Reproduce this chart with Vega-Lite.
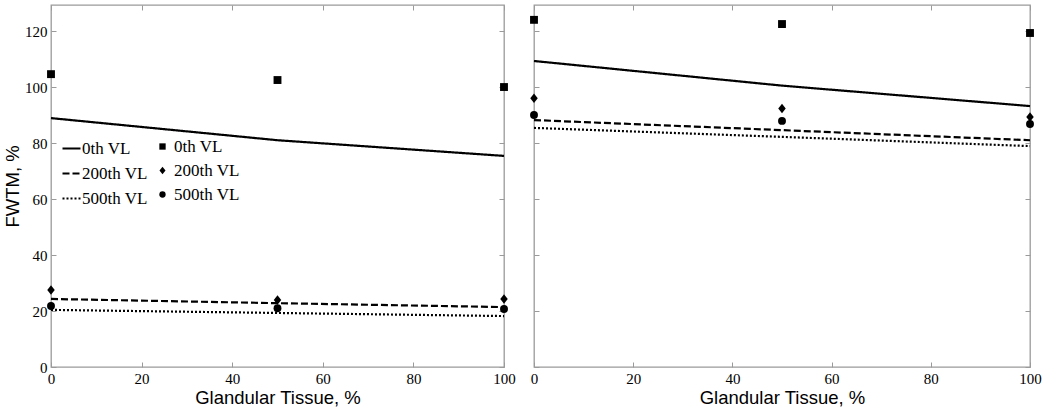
{
  "$schema": "https://vega.github.io/schema/vega-lite/v6.json",
  "background": "white",
  "padding": {"left": 2, "top": 3, "right": 5, "bottom": 5},
  "bounds": "flush",
  "spacing": 30,
  "config": {
    "view": {"stroke": "#9a9a9a", "strokeWidth": 1.3},
    "axis": {
      "domain": false,
      "grid": false,
      "tickColor": "#9a9a9a",
      "tickSize": -5,
      "tickWidth": 1,
      "labelFlush": false,
      "labelFont": "Liberation Serif",
      "labelFontSize": 15,
      "labelColor": "black",
      "titleFont": "Liberation Sans",
      "titleFontSize": 18.5,
      "titleFontWeight": "normal",
      "titleColor": "black"
    },
    "legend": {
      "labelFont": "Liberation Serif",
      "labelFontSize": 17,
      "labelColor": "black",
      "rowPadding": 6
    }
  },
  "datasets": {
    "lines": [
      {"panel": "L", "x": 0, "y": 88.9, "model": "0th VL"},
      {"panel": "L", "x": 50, "y": 81.0, "model": "0th VL"},
      {"panel": "L", "x": 100, "y": 75.4, "model": "0th VL"},
      {"panel": "L", "x": 0, "y": 24.3, "model": "200th VL"},
      {"panel": "L", "x": 50, "y": 22.8, "model": "200th VL"},
      {"panel": "L", "x": 100, "y": 21.4, "model": "200th VL"},
      {"panel": "L", "x": 0, "y": 20.4, "model": "500th VL"},
      {"panel": "L", "x": 50, "y": 19.3, "model": "500th VL"},
      {"panel": "L", "x": 100, "y": 18.2, "model": "500th VL"},
      {"panel": "R", "x": 0, "y": 109.3, "model": "0th VL"},
      {"panel": "R", "x": 50, "y": 100.5, "model": "0th VL"},
      {"panel": "R", "x": 100, "y": 93.2, "model": "0th VL"},
      {"panel": "R", "x": 0, "y": 88.2, "model": "200th VL"},
      {"panel": "R", "x": 50, "y": 84.6, "model": "200th VL"},
      {"panel": "R", "x": 100, "y": 81.0, "model": "200th VL"},
      {"panel": "R", "x": 0, "y": 85.4, "model": "500th VL"},
      {"panel": "R", "x": 50, "y": 82.2, "model": "500th VL"},
      {"panel": "R", "x": 100, "y": 78.9, "model": "500th VL"}
    ],
    "points": [
      {"panel": "L", "x": 0, "y": 104.6, "measured": "0th"},
      {"panel": "L", "x": 50, "y": 102.5, "measured": "0th"},
      {"panel": "L", "x": 100, "y": 100.0, "measured": "0th"},
      {"panel": "L", "x": 0, "y": 27.5, "measured": "200th"},
      {"panel": "L", "x": 50, "y": 23.9, "measured": "200th"},
      {"panel": "L", "x": 100, "y": 24.3, "measured": "200th"},
      {"panel": "L", "x": 0, "y": 21.8, "measured": "500th"},
      {"panel": "L", "x": 50, "y": 21.0, "measured": "500th"},
      {"panel": "L", "x": 100, "y": 20.7, "measured": "500th"},
      {"panel": "R", "x": 0, "y": 124.0, "measured": "0th"},
      {"panel": "R", "x": 50, "y": 122.5, "measured": "0th"},
      {"panel": "R", "x": 100, "y": 119.3, "measured": "0th"},
      {"panel": "R", "x": 0, "y": 96.0, "measured": "200th"},
      {"panel": "R", "x": 50, "y": 92.3, "measured": "200th"},
      {"panel": "R", "x": 100, "y": 89.3, "measured": "200th"},
      {"panel": "R", "x": 0, "y": 90.0, "measured": "500th"},
      {"panel": "R", "x": 50, "y": 87.9, "measured": "500th"},
      {"panel": "R", "x": 100, "y": 86.8, "measured": "500th"}
    ]
  },
  "hconcat": [
    {
      "width": 453,
      "height": 362,
      "layer": [
        {
          "data": {"name": "lines"},
          "transform": [{"filter": "datum.panel == 'L'"}],
          "mark": {"type": "line", "color": "black", "strokeWidth": 2.2},
          "encoding": {
            "x": {"field": "x", "type": "quantitative", "scale": {"domain": [0, 100], "nice": false},
                  "axis": {"orient": "bottom", "values": [0, 20, 40, 60, 80, 100], "title": "Glandular Tissue, %", "labelPadding": 9, "titleY": 30, "titleBaseline": "middle"}},
            "y": {"field": "y", "type": "quantitative", "scale": {"domain": [0, 129.3], "nice": false},
                  "axis": {"orient": "left", "values": [0, 20, 40, 60, 80, 100, 120], "title": "FWTM, %", "labelPadding": 9, "titlePadding": 2}},
            "strokeDash": {"field": "model", "type": "nominal",
                           "scale": {"domain": ["0th VL", "200th VL", "500th VL"], "range": [[1, 0], [7, 3], [2, 2]]},
                           "legend": {"title": null, "orient": "none", "legendX": 10, "legendY": 133, "symbolType": "stroke", "symbolSize": 324, "symbolStrokeWidth": 2.2, "symbolStrokeColor": "black", "labelOffset": 0}}
          }
        },
        {
          "data": {"name": "points"},
          "transform": [{"filter": "datum.panel == 'L'"}],
          "mark": {"type": "point", "filled": true, "color": "black", "opacity": 1, "size": 62},
          "encoding": {
            "x": {"field": "x", "type": "quantitative", "scale": {"domain": [0, 100], "nice": false},
                  "axis": {"orient": "top", "values": [0, 20, 40, 60, 80, 100], "labels": false, "title": null}},
            "y": {"field": "y", "type": "quantitative", "scale": {"domain": [0, 129.3], "nice": false},
                  "axis": {"orient": "right", "values": [0, 20, 40, 60, 80, 100, 120], "labels": false, "title": null}},
            "shape": {"field": "measured", "type": "nominal",
                      "scale": {"domain": ["0th", "200th", "500th"], "range": ["square", "M0,-1.2L0.95,0L0,1.2L-0.95,0Z", "circle"]},
                      "legend": {"title": null, "orient": "none", "legendX": 103, "legendY": 133, "symbolSize": 40, "symbolFillColor": "black", "symbolStrokeColor": "black", "labelOffset": 3, "labelExpr": "datum.label + ' VL'"}}
          }
        }
      ],
      "resolve": {"axis": {"x": "independent", "y": "independent"}}
    },
    {
      "width": 496,
      "height": 362,
      "layer": [
        {
          "data": {"name": "lines"},
          "transform": [{"filter": "datum.panel == 'R'"}],
          "mark": {"type": "line", "color": "black", "strokeWidth": 2.2},
          "encoding": {
            "x": {"field": "x", "type": "quantitative", "scale": {"domain": [0, 100], "nice": false},
                  "axis": {"orient": "bottom", "values": [0, 20, 40, 60, 80, 100], "title": "Glandular Tissue, %", "labelPadding": 9, "titleY": 30, "titleBaseline": "middle"}},
            "y": {"field": "y", "type": "quantitative", "scale": {"domain": [0, 129.3], "nice": false},
                  "axis": {"orient": "left", "values": [0, 20, 40, 60, 80, 100, 120], "labels": false, "title": null}},
            "strokeDash": {"field": "model", "type": "nominal",
                           "scale": {"domain": ["0th VL", "200th VL", "500th VL"], "range": [[1, 0], [7, 3], [2, 2]]}}
          }
        },
        {
          "data": {"name": "points"},
          "transform": [{"filter": "datum.panel == 'R'"}],
          "mark": {"type": "point", "filled": true, "color": "black", "opacity": 1, "size": 62},
          "encoding": {
            "x": {"field": "x", "type": "quantitative", "scale": {"domain": [0, 100], "nice": false},
                  "axis": {"orient": "top", "values": [0, 20, 40, 60, 80, 100], "labels": false, "title": null}},
            "y": {"field": "y", "type": "quantitative", "scale": {"domain": [0, 129.3], "nice": false},
                  "axis": {"orient": "right", "values": [0, 20, 40, 60, 80, 100, 120], "labels": false, "title": null}},
            "shape": {"field": "measured", "type": "nominal",
                      "scale": {"domain": ["0th", "200th", "500th"], "range": ["square", "M0,-1.2L0.95,0L0,1.2L-0.95,0Z", "circle"]}}
          }
        }
      ],
      "resolve": {"axis": {"x": "independent", "y": "independent"}}
    }
  ]
}
